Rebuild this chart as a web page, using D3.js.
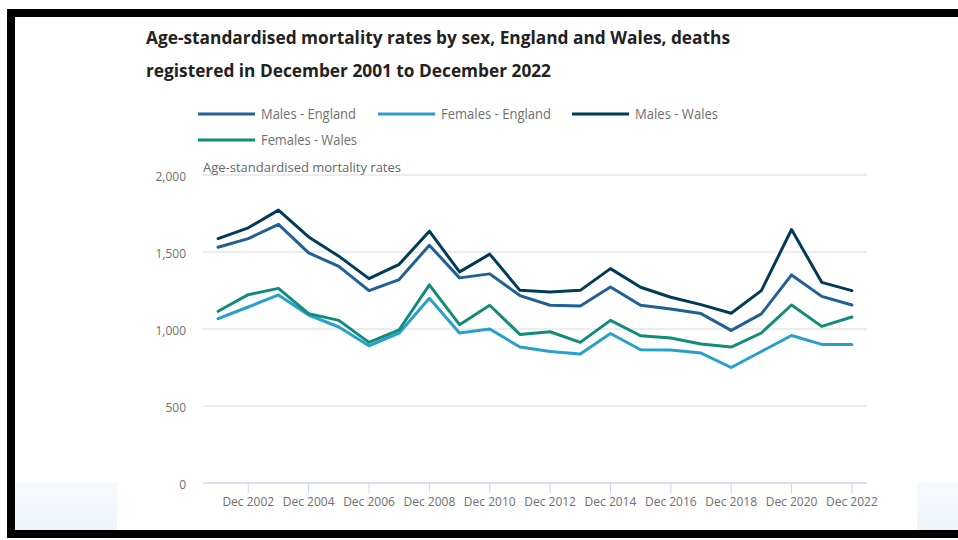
<!DOCTYPE html>
<html><head><meta charset="utf-8">
<script src="https://cdn.jsdelivr.net/npm/d3@7"></script>
<style>
html,body{margin:0;padding:0;background:#fff;}
svg{display:block;font-family:"Open Sans",sans-serif;}
</style></head>
<body><svg id="c" width="958" height="540"></svg>
<script>
const categories = ["Dec 2001","Dec 2002","Dec 2003","Dec 2004","Dec 2005","Dec 2006","Dec 2007","Dec 2008","Dec 2009","Dec 2010","Dec 2011","Dec 2012","Dec 2013","Dec 2014","Dec 2015","Dec 2016","Dec 2017","Dec 2018","Dec 2019","Dec 2020","Dec 2021","Dec 2022"];
const malesEngland   = [1531,1587,1679,1494,1407,1249,1321,1544,1332,1358,1217,1154,1150,1273,1154,1130,1100,991,1098,1351,1212,1156];
const femalesEngland = [1067,1143,1221,1091,1013,891,974,1199,974,1000,883,854,837,971,865,863,844,750,854,958,900,900];
const malesWales     = [1587,1657,1772,1598,1473,1327,1420,1635,1371,1486,1251,1241,1251,1392,1271,1206,1158,1102,1249,1646,1303,1249];
const femalesWales   = [1115,1223,1264,1100,1056,913,995,1286,1028,1154,965,982,913,1056,956,941,902,883,974,1156,1017,1078];
const seriesNames = ["Males - England","Females - England","Males - Wales","Females - Wales"];
const seriesColors = ["#206095","#27a0cc","#003c57","#118c7b"];
const yTicks = [0,500,1000,1500,2000];
const xTickLabels = ["Dec 2002","Dec 2004","Dec 2006","Dec 2008","Dec 2010","Dec 2012","Dec 2014","Dec 2016","Dec 2018","Dec 2020","Dec 2022"];
const titleLines = ["Age-standardised mortality rates by sex, England and Wales, deaths","registered in December 2001 to December 2022"];
const yAxisTitle = "Age-standardised mortality rates";

const series = [malesEngland, femalesEngland, malesWales, femalesWales];
const svg = d3.select("#c");

// frame decorations
const defs = svg.append("defs");
const g1 = defs.append("linearGradient").attr("id","pan").attr("x1",0).attr("y1",0).attr("x2",0).attr("y2",1);
g1.append("stop").attr("offset","0").attr("stop-color","#f7fafd");
g1.append("stop").attr("offset","1").attr("stop-color","#eef4fb");
svg.append("rect").attr("x",15).attr("y",482).attr("width",102).attr("height",48).attr("fill","url(#pan)");
svg.append("rect").attr("x",917).attr("y",482).attr("width",41).attr("height",48).attr("fill","url(#pan)");
svg.append("rect").attr("x",7).attr("y",9).attr("width",951).attr("height",8).attr("fill","#000");
svg.append("rect").attr("x",7).attr("y",9).attr("width",8).attr("height",529).attr("fill","#000");
svg.append("rect").attr("x",7).attr("y",530).attr("width",951).attr("height",8).attr("fill","#000");

// title
const tl = [[584,44],[405,77]];
titleLines.forEach((t,i)=>{
  svg.append("text").attr("x",146).attr("y",tl[i][1]).text(t)
    .attr("font-size",18).attr("font-weight",700).attr("fill","#222")
    .attr("textLength",tl[i][0]).attr("lengthAdjust","spacingAndGlyphs");
});

// scales
const pLeft=203, pRight=867, pTop=175, pBottom=483;
const x = d3.scaleBand().domain(categories).range([pLeft,pRight]);
const y = d3.scaleLinear().domain([0,2000]).range([pBottom,pTop]);
const cx = c => x(c)+x.bandwidth()/2;

// grid
svg.append("g").selectAll("line").data(yTicks.filter(d=>d>0)).join("line")
  .attr("x1",pLeft).attr("x2",pRight).attr("y1",d=>y(d)).attr("y2",d=>y(d))
  .attr("stroke","#e6e6e6").attr("stroke-width",1.5);

// y axis labels
const yAxis = d3.axisLeft(y).tickValues(yTicks).tickSize(0).tickPadding(0).tickFormat(d3.format(","));
const ya = svg.append("g").attr("transform",`translate(186,1.5)`).call(yAxis);
ya.select(".domain").remove();
ya.selectAll("text").attr("font-size",12).attr("fill","#707070").attr("font-family","Open Sans");

// x axis
const xa = svg.append("g").attr("transform",`translate(0,${pBottom})`)
  .call(d3.axisBottom(x).tickValues(xTickLabels).tickSize(10).tickPadding(4).tickSizeOuter(0));
xa.select(".domain").attr("stroke","#ccd6eb").attr("stroke-width",1.5).attr("d",`M${pLeft},0H${pRight}`);
xa.selectAll(".tick line").attr("stroke","#ccd6eb");
xa.selectAll("text").attr("font-size",12).attr("fill","#707070").attr("font-family","Open Sans");

// axis title
svg.append("text").attr("x",203).attr("y",172).text(yAxisTitle)
  .attr("font-size",13).attr("fill","#666").attr("textLength",198).attr("lengthAdjust","spacingAndGlyphs");

// lines
const line = d3.line().x((d,i)=>cx(categories[i])).y(d=>y(d));
[1,0,3,2].forEach(k=>{
  svg.append("path").datum(series[k]).attr("d",line).attr("fill","none")
    .attr("stroke",seriesColors[k]).attr("stroke-width",3).attr("stroke-linejoin","round").attr("stroke-linecap","round");
});

// legend
const legPos = [[198,114,95],[378,114,110],[572,114,83],[198,140,96]];
seriesNames.forEach((n,i)=>{
  const [lx,ly,tw]=legPos[i];
  svg.append("line").attr("x1",lx).attr("x2",lx+57).attr("y1",ly).attr("y2",ly)
    .attr("stroke",seriesColors[i]).attr("stroke-width",3);
  svg.append("text").attr("x",lx+63).attr("y",ly+5).text(n).attr("font-size",14).attr("fill","#707070")
    .attr("textLength",tw).attr("lengthAdjust","spacingAndGlyphs");
});
</script></body></html>
